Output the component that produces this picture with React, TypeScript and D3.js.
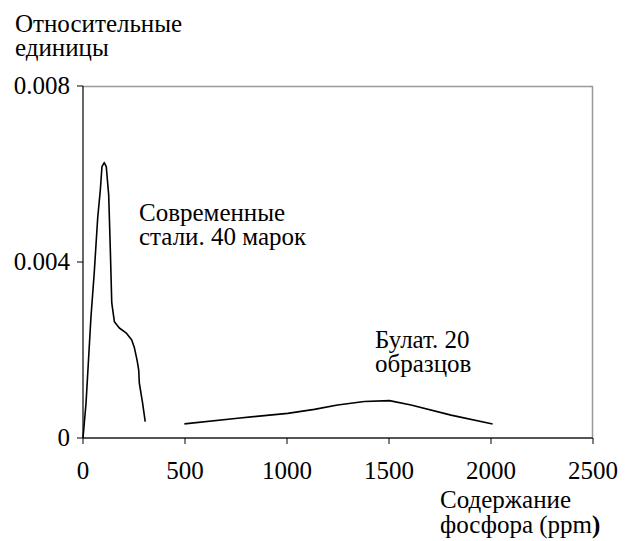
import React from 'react';
import * as d3 from 'd3';

// Modern steels (40 grades): phosphorus ppm vs relative units
const modernP = [0, 15, 39, 55, 72, 85, 93, 104, 114, 126, 134, 141, 154, 178, 211, 239, 252, 265, 273, 276, 292, 305];
const modernY = [0, 0.0008, 0.00275, 0.00375, 0.005, 0.00564, 0.00617, 0.00626, 0.00617, 0.00552, 0.00427, 0.00307, 0.00264, 0.0025, 0.00239, 0.00223, 0.00205, 0.00177, 0.00155, 0.00125, 0.0008, 0.00037];

// Bulat (20 samples)
const bulatP = [497, 758, 1003, 1134, 1248, 1379, 1502, 1608, 1804, 2008];
const bulatY = [0.00032, 0.00045, 0.00056, 0.00065, 0.00075, 0.00083, 0.00085, 0.00075, 0.00052, 0.00032];

const xTicks = [0, 500, 1000, 1500, 2000, 2500];
const yTicks = [0, 0.004, 0.008];
const yTickLabels = ['0', '0.004', '0.008'];

const FONT = 'Liberation Serif, Times New Roman, serif';
const FS = 25;

function App() {
  const width = 627;
  const height = 541;
  const margin = { top: 86, right: 34, bottom: 103, left: 83 };
  const innerWidth = width - margin.left - margin.right;
  const innerHeight = height - margin.top - margin.bottom;

  const x = d3.scaleLinear().domain([0, 2500]).range([0, innerWidth]);
  const y = d3.scaleLinear().domain([0, 0.008]).range([innerHeight, 0]);

  const modernLine = d3.line<number>()
    .x(d => x(d))
    .y((d, i) => y(modernY[i]))(modernP) || '';
  const bulatLine = d3.line<number>()
    .x(d => x(d))
    .y((d, i) => y(bulatY[i]))(bulatP) || '';

  const textProps = { fontFamily: FONT, fontSize: FS, fill: '#000' };

  return (
    <svg width={width} height={height}
      style={{ position: 'absolute', left: 0, top: 0, background: '#fff' }}>
      {/* axis titles and notes */}
      <text {...textProps}>
        <tspan x={15} y={32}>Относительные</tspan>
        <tspan x={15} y={56}>единицы</tspan>
      </text>
      <text {...textProps}>
        <tspan x={139} y={221}>Современные</tspan>
        <tspan x={139} y={245}>стали. 40 марок</tspan>
      </text>
      <text {...textProps}>
        <tspan x={375} y={348}>Булат. 20</tspan>
        <tspan x={375} y={372}>образцов</tspan>
      </text>
      <text {...textProps}>
        <tspan x={440} y={508}>Содержание</tspan>
        <tspan x={440} y={533}>фосфора (ppm</tspan>
        <tspan fontWeight="bold">)</tspan>
      </text>

      <g transform={`translate(${margin.left},${margin.top})`}>
        {/* frame top / right */}
        <path d={`M0,0.5H${innerWidth - 0.5}V${innerHeight}`} fill="none" stroke="#999" strokeWidth={1.5} />

        {/* x axis */}
        <line x1={0} x2={innerWidth} y1={innerHeight} y2={innerHeight} stroke="#555" strokeWidth={2} />
        {xTicks.map(t => (
          <g key={t} transform={`translate(${x(t)},${innerHeight})`}>
            <line y1={0} y2={6} stroke="#000" strokeWidth={1} />
            <text y={41} textAnchor="middle" {...textProps}>{t}</text>
          </g>
        ))}

        {/* y axis */}
        <line x1={0} x2={0} y1={0} y2={innerHeight} stroke="#000" strokeWidth={1.2} />
        {yTicks.map((t, i) => (
          <g key={t} transform={`translate(0,${y(t)})`}>
            <line x1={-6} x2={0} stroke="#000" strokeWidth={1} />
            <text x={-13} dy={8} textAnchor="end" {...textProps}>{yTickLabels[i]}</text>
          </g>
        ))}

        <path d={modernLine} fill="none" stroke="#000" strokeWidth={1.6} strokeLinejoin="round" />
        <path d={bulatLine} fill="none" stroke="#000" strokeWidth={1.6} strokeLinejoin="round" />
      </g>
    </svg>
  );
}

export default App;
